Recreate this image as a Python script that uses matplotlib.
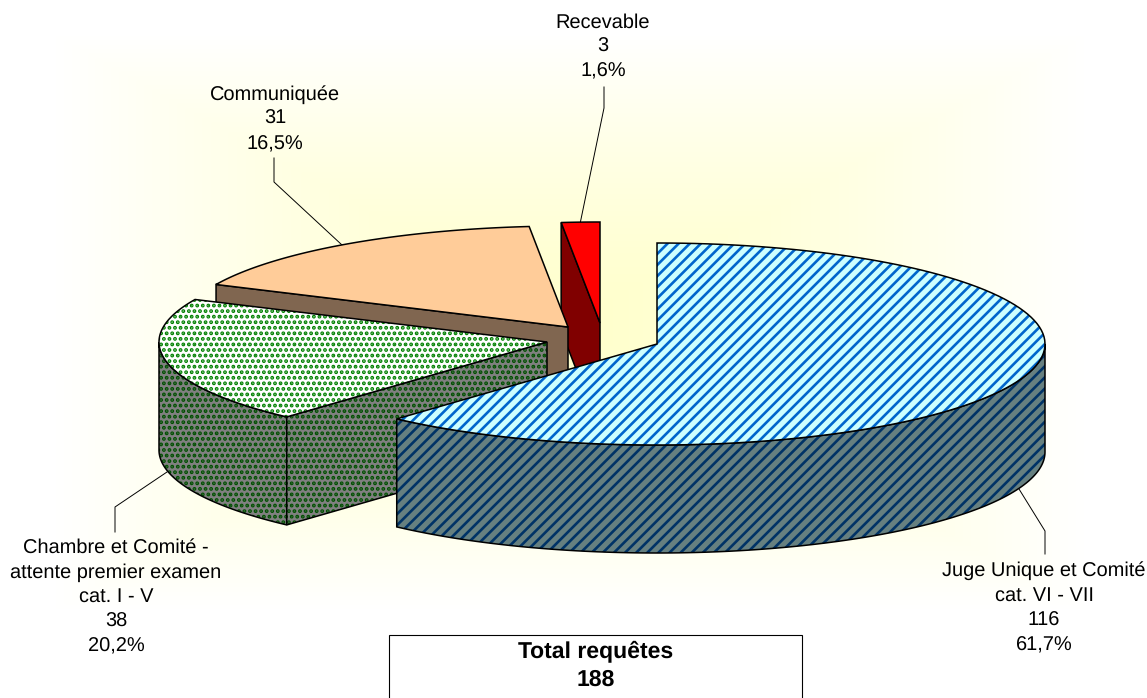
"""3D-looking exploded pie of pending applications."""

import matplotlib

matplotlib.use("Agg")
import matplotlib.pyplot as plt
import numpy as np
from matplotlib.patches import Polygon, Rectangle

plt.rcParams["font.family"] = ["Liberation Sans", "DejaVu Sans"]
plt.rcParams["hatch.linewidth"] = 1.9
plt.rcParams["text.hinting"] = "no_hinting"
plt.rcParams["text.hinting_factor"] = 1

labels = [
    "Juge Unique et Comité\ncat. VI - VII",
    "Chambre et Comité -\nattente premier examen\ncat. I - V",
    "Communiquée",
    "Recevable",
]
counts = [116, 38, 31, 3]
total_label = "Total requêtes"

# apex of each exploded slice, in pixels
centers = [(657, 344), (547, 342), (568, 327), (600, 323)]
label_pos = [(1044, 608), (116, 597), (275, 119), (603, 47)]
leaders = [
    [(1019, 489), (1045, 531), (1045, 554)],
    [(167, 472), (115, 507), (115, 532)],
    [(342, 245), (274, 182), (274, 158)],
    [(580, 224), (604, 108), (604, 87)],
]

RX, RY, DEPTH = 388, 101, 108
OUTLINE = 1.1


def arc(center, a0, a1, n=120):
    """Ellipse points, angles clockwise from the top, in degrees."""
    t = np.radians(np.linspace(a0, a1, n))
    return np.column_stack([center[0] + RX * np.sin(t), center[1] - RY * np.cos(t)])


def face(ax, pts, fill, hatch_color=None, hatch=None, z=1):
    if hatch:
        ax.add_patch(Polygon(pts, closed=True, facecolor=fill, edgecolor=hatch_color,
                             hatch=hatch, linewidth=0, zorder=z))
    else:
        ax.add_patch(Polygon(pts, closed=True, facecolor=fill, edgecolor="none", zorder=z))
    ax.add_patch(Polygon(pts, closed=True, fill=False, edgecolor="black",
                         linewidth=OUTLINE, joinstyle="miter", zorder=z))


def extrude(pts):
    pts = np.asarray(pts, dtype=float)
    return np.vstack([pts, pts[::-1] + [0, DEPTH]])


fig = plt.figure(figsize=(11.47, 6.98), dpi=100)
ax = fig.add_axes([0, 0, 1, 1])
ax.axis("off")

# rectangular gradient behind the pie
gx, gy = np.meshgrid(np.linspace(-1, 1, 400), np.linspace(-1, 1, 300))
fade = np.clip(1 - np.maximum(np.abs(gx), np.abs(gy)) ** 1.3, 0, 1)
bg = np.ones(gx.shape + (3,))
bg[..., 2] = 1 - fade * 0.2 / fade.max()
ax.imshow(bg, extent=(55, 1085, 610, 35), aspect="auto", zorder=0, interpolation="bilinear")
ax.set_xlim(0, 1147)
ax.set_ylim(698, 0)

angles = np.concatenate([[0], np.cumsum(counts) / np.sum(counts) * 360])

# leader lines sit under the slices
for pts in leaders:
    xs, ys = zip(*pts)
    ax.plot(xs, ys, color="black", lw=0.7, zorder=0.5)

# recevable, back to front
c = centers[3]
a0, a1 = angles[3], angles[4]
cut = np.vstack([arc(c, a0, a0, 1), [c]])
face(ax, extrude(cut), "#800000", z=2)
face(ax, np.vstack([[c], arc(c, a0, a1)]), "#ff0000", z=2)

# communiquee
c = centers[2]
a0, a1 = angles[2], angles[3]
cut = np.vstack([arc(c, a0, a0, 1), [c]])
face(ax, extrude(cut), "#806650", z=3)
face(ax, np.vstack([[c], arc(c, a0, a1)]), "#ffcc99", z=3)

# chambre
c = centers[1]
a0, a1 = angles[1], angles[2]
side = "#808080"
face(ax, extrude(arc(c, a0, 270)), side, "#005000", "...", z=4)
face(ax, extrude(np.vstack([arc(c, a0, a0, 1), [c]])), side, "#005000", "...", z=4)
face(ax, np.vstack([[c], arc(c, a0, a1)]), "white", "#008000", "...", z=4)

# juge unique
c = centers[0]
a0, a1 = angles[0], angles[1]
face(ax, extrude(arc(c, 90, a1)), "#668080", "#003366", "///", z=5)
face(ax, np.vstack([[c], arc(c, a0, a1)]), "#ccffff", "#0066cc", "///", z=5)

for lab, n, (x, y) in zip(labels, counts, label_pos):
    pct = f"{n / sum(counts) * 100:.1f}%".replace(".", ",")
    ax.text(x, y, f"{lab}\n{n}\n{pct}", ha="center", va="center", fontsize=14.5,
            linespacing=1.42, color="black", zorder=6)

ax.add_patch(Rectangle((389, 634.5), 413, 70, facecolor="white", edgecolor="black",
                       linewidth=0.8, zorder=6))
ax.text(596, 665, f"{total_label}\n{sum(counts)}", ha="center", va="center", fontsize=16.8,
        fontweight="bold", linespacing=1.42, zorder=7)

fig.savefig("out.png", dpi=100)
plt.close(fig)
